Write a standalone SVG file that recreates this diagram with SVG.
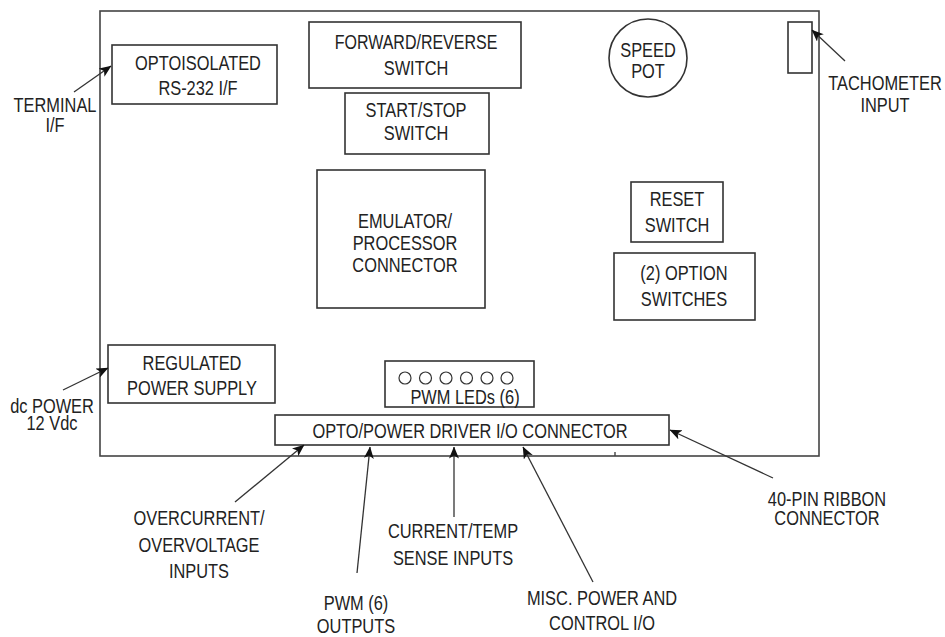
<svg xmlns="http://www.w3.org/2000/svg" width="945" height="637" viewBox="0 0 945 637">
  <style>
    .box { fill: #fff; stroke: #333; stroke-width: 1.6; }
    .board { fill: #fff; stroke: #444; stroke-width: 1.6; }
    .led { fill: none; stroke: #333; stroke-width: 1.2; }
    .lbl { font-family: "Liberation Sans", Arial, sans-serif; font-size: 20px; fill: #222; text-anchor: middle; }
    .conn line { stroke: #333; stroke-width: 1.3; marker-end: url(#arrow); }
  </style>
  <defs>
    <marker id="arrow" viewBox="0 0 12 10" refX="11.5" refY="5" markerWidth="12" markerHeight="10" markerUnits="userSpaceOnUse" orient="auto">
      <path d="M0,0 L12,5 L0,10 L3,5 z" fill="#111"/>
    </marker>
  </defs>

  <rect width="945" height="637" fill="#fff"/>

  <!-- board outline; labels use a condensed face (scaleX 0.82) -->
  <g id="board">
    <rect class="board" x="100" y="11" width="719" height="445"/>
    <line x1="615" y1="452" x2="615" y2="456" stroke="#444" stroke-width="1.4"/>
  </g>

  <g id="rs232">
    <rect class="box" x="112" y="45" width="165" height="59"/>
    <text class="lbl" transform="translate(198,70) scale(0.82,1)">OPTOISOLATED</text>
    <text class="lbl" transform="translate(198,95) scale(0.82,1)">RS-232 I/F</text>
  </g>

  <g id="fwdrev">
    <rect class="box" x="309" y="22" width="212" height="66"/>
    <text class="lbl" transform="translate(416,49) scale(0.8,1)">FORWARD/REVERSE</text>
    <text class="lbl" transform="translate(416,75) scale(0.82,1)">SWITCH</text>
  </g>

  <g id="startstop">
    <rect class="box" x="345" y="93" width="144" height="61"/>
    <text class="lbl" transform="translate(416,117) scale(0.82,1)">START/STOP</text>
    <text class="lbl" transform="translate(416,140) scale(0.82,1)">SWITCH</text>
  </g>

  <g id="speedpot">
    <circle class="box" cx="648" cy="58" r="39"/>
    <text class="lbl" transform="translate(648,57) scale(0.82,1)">SPEED</text>
    <text class="lbl" transform="translate(648,78) scale(0.82,1)">POT</text>
  </g>

  <g id="tach">
    <rect class="box" x="788" y="22" width="24" height="51"/>
  </g>

  <g id="emulator">
    <rect class="box" x="317" y="170" width="168" height="138"/>
    <text class="lbl" transform="translate(405,228) scale(0.82,1)">EMULATOR/</text>
    <text class="lbl" transform="translate(405,250) scale(0.82,1)">PROCESSOR</text>
    <text class="lbl" transform="translate(405,272) scale(0.82,1)">CONNECTOR</text>
  </g>

  <g id="reset">
    <rect class="box" x="631" y="182" width="92" height="60"/>
    <text class="lbl" transform="translate(677,206) scale(0.82,1)">RESET</text>
    <text class="lbl" transform="translate(677,232) scale(0.82,1)">SWITCH</text>
  </g>

  <g id="options">
    <rect class="box" x="614" y="253" width="141" height="67"/>
    <text class="lbl" transform="translate(684,280) scale(0.82,1)">(2) OPTION</text>
    <text class="lbl" transform="translate(684,306) scale(0.82,1)">SWITCHES</text>
  </g>

  <g id="psu">
    <rect class="box" x="108" y="345" width="167" height="58"/>
    <text class="lbl" transform="translate(192,370) scale(0.82,1)">REGULATED</text>
    <text class="lbl" transform="translate(192,395) scale(0.82,1)">POWER SUPPLY</text>
  </g>

  <g id="leds">
    <rect class="box" x="385" y="361" width="149" height="46"/>
    <circle class="led" cx="405" cy="378" r="6"/>
    <circle class="led" cx="425.5" cy="378" r="6"/>
    <circle class="led" cx="446" cy="378" r="6"/>
    <circle class="led" cx="466.5" cy="378" r="6"/>
    <circle class="led" cx="487" cy="378" r="6"/>
    <circle class="led" cx="507" cy="378" r="6"/>
    <text class="lbl" transform="translate(465,404) scale(0.82,1)">PWM LEDs (6)</text>
  </g>

  <g id="ioconn">
    <rect class="box" x="275" y="415" width="394" height="30"/>
    <text class="lbl" transform="translate(470,438) scale(0.82,1)">OPTO/POWER DRIVER I/O CONNECTOR</text>
  </g>

  <!-- external labels -->
  <g id="terminal">
    <text class="lbl" transform="translate(55,112) scale(0.82,1)">TERMINAL</text>
    <text class="lbl" transform="translate(55,132) scale(0.82,1)">I/F</text>
  </g>
  <g id="tachlabel">
    <text class="lbl" transform="translate(885,90) scale(0.82,1)">TACHOMETER</text>
    <text class="lbl" transform="translate(885,112) scale(0.82,1)">INPUT</text>
  </g>
  <g id="dcpower">
    <text class="lbl" transform="translate(52,413) scale(0.82,1)">dc POWER</text>
    <text class="lbl" transform="translate(52,430) scale(0.82,1)">12 Vdc</text>
  </g>
  <g id="overcurrent">
    <text class="lbl" transform="translate(199,525) scale(0.82,1)">OVERCURRENT/</text>
    <text class="lbl" transform="translate(199,552) scale(0.82,1)">OVERVOLTAGE</text>
    <text class="lbl" transform="translate(199,578) scale(0.82,1)">INPUTS</text>
  </g>
  <g id="pwmout">
    <text class="lbl" transform="translate(356,610) scale(0.82,1)">PWM (6)</text>
    <text class="lbl" transform="translate(356,633) scale(0.82,1)">OUTPUTS</text>
  </g>
  <g id="sense">
    <text class="lbl" transform="translate(453,538) scale(0.82,1)">CURRENT/TEMP</text>
    <text class="lbl" transform="translate(453,565) scale(0.82,1)">SENSE INPUTS</text>
  </g>
  <g id="misc">
    <text class="lbl" transform="translate(602,605) scale(0.82,1)">MISC. POWER AND</text>
    <text class="lbl" transform="translate(602,630) scale(0.82,1)">CONTROL I/O</text>
  </g>
  <g id="ribbon">
    <text class="lbl" transform="translate(827,506) scale(0.82,1)">40-PIN RIBBON</text>
    <text class="lbl" transform="translate(827,525) scale(0.82,1)">CONNECTOR</text>
  </g>

  <!-- connectors -->
  <g id="connectors" class="conn">
    <line x1="74" y1="92" x2="111" y2="66"/>
    <line x1="845" y1="61" x2="812" y2="30"/>
    <line x1="63" y1="390" x2="108" y2="368"/>
    <line x1="235" y1="502" x2="304" y2="445"/>
    <line x1="357" y1="573" x2="370" y2="447"/>
    <line x1="454" y1="517" x2="454" y2="447"/>
    <line x1="593" y1="582" x2="523" y2="447"/>
    <line x1="773" y1="478" x2="670" y2="430"/>
  </g>
</svg>
